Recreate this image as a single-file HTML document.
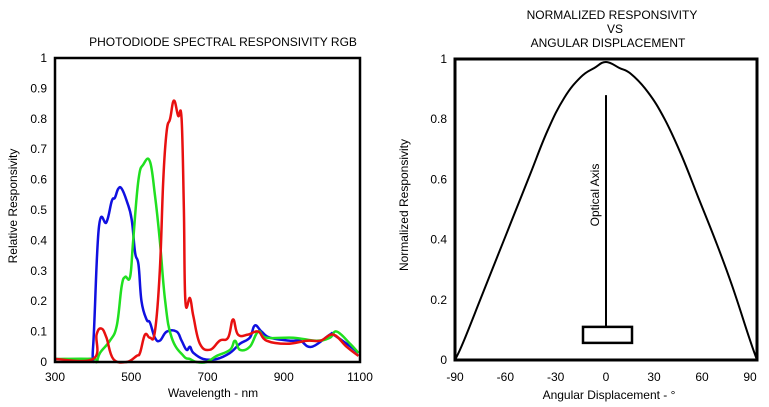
<!DOCTYPE html>
<html><head><meta charset="utf-8"><style>
html,body{margin:0;padding:0;background:#fff;}
svg{display:block;font-family:"Liberation Sans",Arial,sans-serif;}
</style></head><body>
<svg id="s" width="769" height="407" viewBox="0 0 769 407">
<text x="223" y="46" font-size="12" text-anchor="middle">PHOTODIODE SPECTRAL RESPONSIVITY RGB</text>
<text x="612" y="19" font-size="12" text-anchor="middle">NORMALIZED RESPONSIVITY</text>
<text x="615" y="33" font-size="12" text-anchor="middle">VS</text>
<text x="608" y="47" font-size="12" text-anchor="middle">ANGULAR DISPLACEMENT</text>
<g id="L"></g><g id="R"></g>
</svg>
<script>
const wavelengths=[300,390,400,415,435,449,457,466,475,488,501,510,519,527,540,549,562,575,593,619,632,645,654,663,689,724,759,785,811,824,842,864,917,943,973,1021,1030,1065,1096];
const blueValues=[0.01,0.01,0.05,0.44,0.46,0.53,0.54,0.57,0.57,0.53,0.47,0.36,0.32,0.2,0.14,0.13,0.08,0.07,0.1,0.1,0.07,0.04,0.05,0.03,0.01,0.01,0.03,0.06,0.08,0.12,0.1,0.08,0.07,0.07,0.05,0.09,0.09,0.06,0.03];
const greenWl=[300,400,409,418,444,462,475,484,497,505,519,532,549,562,575,589,606,637,654,671,697,724,759,772,785,811,833,855,925,986,1021,1039,1074,1096];
const greenValues=[0.01,0.01,0.0,0.03,0.07,0.12,0.25,0.28,0.28,0.4,0.6,0.65,0.66,0.55,0.4,0.2,0.08,0.02,0.01,0,0,0.02,0.04,0.07,0.04,0.05,0.1,0.08,0.08,0.07,0.08,0.1,0.06,0.03];
const redWl=[300,400,409,422,435,453,488,514,523,536,549,562,575,584,593,602,612,623,632,638,642,654,663,680,706,732,754,767,780,806,833,855,908,961,996,1030,1065,1096];
const redValues=[0.01,0.01,0.09,0.11,0.08,0.01,0,0.02,0.03,0.09,0.08,0.1,0.3,0.6,0.76,0.8,0.86,0.81,0.8,0.5,0.2,0.21,0.15,0.06,0.04,0.07,0.08,0.14,0.09,0.09,0.1,0.07,0.06,0.07,0.07,0.09,0.05,0.02];
const leftXTicks=[300,500,700,900,1100];
const leftYTicks=[0,0.1,0.2,0.3,0.4,0.5,0.6,0.7,0.8,0.9,1];
const angles=[-90,-85,-75,-65,-55,-45,-35,-25,-15,-7,0,8,15,25,35,45,55,65,75,85,90];
const angleValues=[0,0.06,0.2,0.34,0.48,0.62,0.76,0.87,0.94,0.97,0.99,0.97,0.95,0.89,0.8,0.68,0.54,0.4,0.25,0.08,0];
const rightXTicks=[-90,-60,-30,0,30,60,90];
const rightYTicks=[0,0.2,0.4,0.6,0.8,1];
const NS="http://www.w3.org/2000/svg";
function mk(p,t,a){const e=document.createElementNS(NS,t);for(const k in a)e.setAttribute(k,a[k]);p.appendChild(e);return e;}
const L=document.getElementById('L');
const lx=v=>55+(v-300)/800*305, ly=v=>362-v*304;
leftYTicks.forEach(v=>{const t=mk(L,'text',{x:47,y:ly(v)+4,'font-size':12,'text-anchor':'end'});t.textContent=String(v);

});
leftXTicks.forEach(v=>{const t=mk(L,'text',{x:lx(v),y:381,'font-size':12,'text-anchor':'middle'});t.textContent=String(v);

});
let t1=mk(L,'text',{x:213,y:397,'font-size':12,'text-anchor':'middle'});t1.textContent='Wavelength - nm';


let t2=mk(L,'text',{x:17,y:206,'font-size':12,'text-anchor':'middle',transform:'rotate(-90 17 206)'});t2.textContent='Relative Responsivity';


function series(g,xs,ys,fx,fy,col,name,w){
const P=xs.map((x,i)=>[fx(x),fy(ys[i])]);
let d='M'+P[0][0].toFixed(1)+' '+P[0][1].toFixed(1);
for(let i=0;i<P.length-1;i++){const p0=P[Math.max(0,i-1)],p1=P[i],p2=P[i+1],p3=P[Math.min(P.length-1,i+2)];const k=0.2;
const c1=[p1[0]+(p2[0]-p0[0])*k,p1[1]+(p2[1]-p0[1])*k],c2=[p2[0]-(p3[0]-p1[0])*k,p2[1]-(p3[1]-p1[1])*k];
d+=' C'+c1.map(n=>n.toFixed(1)).join(' ')+' '+c2.map(n=>n.toFixed(1)).join(' ')+' '+p2[0].toFixed(1)+' '+p2[1].toFixed(1);}
const p=mk(g,'path',{d:d,fill:'none',stroke:col,'stroke-width':w,'stroke-linejoin':'round'});

}
series(L,wavelengths,blueValues,lx,ly,'#1010e0','blue-series',2.5);
series(L,greenWl,greenValues,lx,ly,'#20e020','green-series',2.5);
series(L,redWl,redValues,lx,ly,'#e81010','red-series',2.5);
const lb=mk(L,'rect',{x:55,y:58,width:305,height:304,fill:'none',stroke:'#000','stroke-width':2.5});


const R=document.getElementById('R');
const rx=v=>455+(v+90)/180*302, ry=v=>360-v*301;
rightYTicks.forEach(v=>{const t=mk(R,'text',{x:447,y:ry(v)+4,'font-size':12,'text-anchor':'end'});t.textContent=String(v);

});
rightXTicks.forEach(v=>{const t=mk(R,'text',{x:rx(v)-(v>0?v/90*7:0),y:381,'font-size':12,'text-anchor':'middle'});t.textContent=String(v);

});
let t3=mk(R,'text',{x:609,y:399,'font-size':12,'text-anchor':'middle'});t3.textContent='Angular Displacement - °';


let t4=mk(R,'text',{x:408,y:205,'font-size':12,'text-anchor':'middle',transform:'rotate(-90 408 205)'});t4.textContent='Normalized Responsivity';


series(R,angles,angleValues,rx,ry,'#000','angular-response-curve',2);
const ax=mk(R,'line',{x1:rx(0),y1:ry(0.88),x2:rx(0),y2:ry(0.11),stroke:'#000','stroke-width':2});


const bx=mk(R,'rect',{x:583,y:ry(0.11),width:49,height:16,fill:'none',stroke:'#000','stroke-width':2.5});


let t5=mk(R,'text',{x:599,y:195,'font-size':12,'text-anchor':'middle',transform:'rotate(-90 599 195)'});t5.textContent='Optical Axis';


const rb=mk(R,'rect',{x:455,y:59,width:302,height:301,fill:'none',stroke:'#000','stroke-width':3});


</script>
</body></html>
